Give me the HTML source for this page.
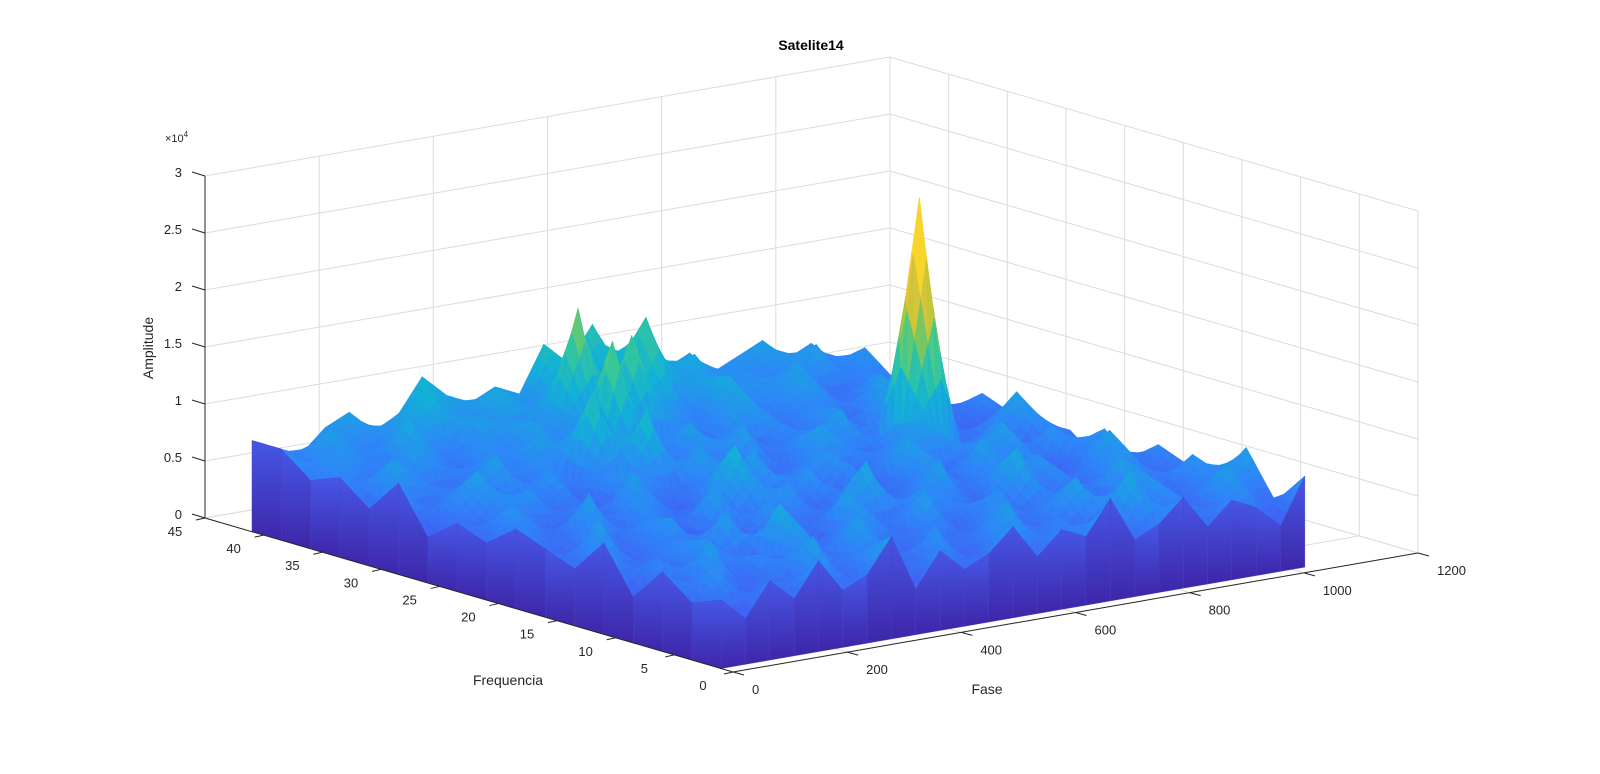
<!DOCTYPE html>
<html><head><meta charset="utf-8"><style>
html,body{margin:0;padding:0;background:#fff;width:1600px;height:774px;overflow:hidden}
svg{display:block;font-family:"Liberation Sans","DejaVu Sans",sans-serif}
</style></head><body>
<svg id="chart" width="1600" height="774" viewBox="0 0 1600 774" xmlns="http://www.w3.org/2000/svg">
<defs><linearGradient id="skirt" x1="0" y1="1" x2="0" y2="0"><stop offset="0" stop-color="#3e26a8"/><stop offset="1" stop-color="#4657e6"/></linearGradient></defs>
<g id="grid"></g>
<g id="surf"></g>
<g id="axes"></g>
<text x="811" y="50" text-anchor="middle" font-size="14" font-weight="bold" fill="#000">Satelite14</text>
<text transform="translate(153,348) rotate(-90)" text-anchor="middle" font-size="14" fill="#262626">Amplitude</text>
<text x="508" y="685" text-anchor="middle" font-size="14" fill="#262626">Frequencia</text>
<text x="987" y="694" text-anchor="middle" font-size="14" fill="#262626">Fase</text>
<text x="165" y="142" font-size="11" fill="#262626">×10<tspan dy="-5" font-size="8">4</tspan></text>
</svg>
<script>
const faseTicks=[0,200,400,600,800,1000,1200];
const freqTicks=[0,5,10,15,20,25,30,35,40,45];
const zTicks=[0,0.5,1,1.5,2,2.5,3];
const zTickLabels=["0","0.5","1","1.5","2","2.5","3"];
const freqs=[1,3.5,6,8.5,11,13.5,16,18.5,21,23.5,26,28.5,31,33.5,36,38.5,41];
const fases=[0,42.6,85.2,127.8,170.4,213,255.6,298.2,340.8,383.4,426,468.6,511.2,553.8,596.4,639,681.6,724.2,766.8,809.4,852,894.6,937.2,979.8,1022.4];
// amplitude in thousands, rows = freqs, cols = fases
const amp=[
[6,4,7,5,8,5,6,9,4,7,5,6,8,5,7,6,9,5,6,8,5,7,6,4,8],
[5,8,4,6,5,9,4,7,6,5,8,4,6,9,5,7,4,6,10,5,7,5,9,6,5],
[7,5,9,4,7,6,8,5,9,6,4,7,5,6,8,4,7,9,5,6,8,4,6,7,9],
[4,7,5,8,6,4,10,6,5,8,7,5,9,4,6,8,5,6,7,4,9,6,5,8,5],
[8,5,6,7,4,9,5,7,6,4,9,6,5,8,7,5,6,10,4,7,5,8,7,5,6],
[5,9,4,6,8,5,7,4,8,6,5,7,10,5,6,9,4,7,6,8,5,6,9,4,7],
[6,4,8,5,7,6,4,9,5,7,8,4,6,7,5,6,8,5,9,6,7,4,6,8,5],
[7,6,5,9,4,8,6,5,7,11,5,6,8,4,7,5,9,6,5,7,9,5,8,6,4],
[5,8,6,4,7,5,9,6,4,7,6,9,5,7,8,4,6,8,9,7,5,8,4,7,6],
[6,5,7,8,5,6,4,8,7,5,9,6,7,5,6,9,7,5,8,27.5,6,5,7,9,5],
[4,7,9,5,6,8,5,7,6,12,5,8,6,9,5,7,6,9,5,8,7,6,5,4,6],
[8,5,6,7,9,4,8,5,13,6,7,5,9,6,8,5,7,6,8,5,9,7,6,5,7],
[5,9,7,5,6,8,6,9,7,5,16,8,6,7,5,9,8,5,7,6,5,9,7,6,5],
[7,6,5,9,7,5,8,6,9,7,8,6,15,9,7,6,10,7,6,9,7,5,8,6,7],
[6,8,7,6,10,7,6,9,8,6,9,17,7,8,14,7,9,6,8,7,9,6,5,7,6],
[8,6,9,7,6,9,11,8,7,10,8,7,9,8,7,14,8,10,7,8,6,7,9,6,8],
[8,7,6,8,9,7,8,11,9,8,9,8,12,10,13,9,11,8,9,7,8,9,7,8,6]
];
const NS="http://www.w3.org/2000/svg";
const F0=[733,672],VF=[-528,-154],VP=[685,-119],ZH=342;
function proj(f,p,z){return [F0[0]+VF[0]*f/45+VP[0]*p/1200, F0[1]+VF[1]*f/45+VP[1]*p/1200-ZH*z/30];}
function mk(tag,attrs,parent){const e=document.createElementNS(NS,tag);for(const k in attrs)e.setAttribute(k,attrs[k]);parent.appendChild(e);return e;}
function line(a,b,col,g,w){return mk('line',{x1:a[0],y1:a[1],x2:b[0],y2:b[1],stroke:col,'stroke-width':w||1},g);}
const stops=[[0,[62,38,168]],[0.125,[72,82,244]],[0.25,[46,135,247]],[0.375,[18,177,214]],[0.5,[55,200,151]],[0.625,[171,199,57]],[0.75,[254,195,56]],[0.875,[245,220,40]],[1,[249,251,14]]];
function parula(t){t=Math.max(0,Math.min(1,t));for(let i=1;i<stops.length;i++){if(t<=stops[i][0]){const a=stops[i-1],b=stops[i],u=(t-a[0])/(b[0]-a[0]);const c=a[1].map((v,k)=>Math.round(v+(b[1][k]-v)*u));return `rgb(${c})`;}}return 'rgb(249,251,14)';}
const grid=document.getElementById('grid'),GC='#dcdcdc';
zTicks.forEach(z=>{const g1=line(proj(45,0,z*10),proj(45,1200,z*10),GC,grid);
const g2=line(proj(45,1200,z*10),proj(0,1200,z*10),GC,grid);});
faseTicks.forEach(p=>{const a=line(proj(45,p,0),proj(45,p,30),GC,grid);
const b=line(proj(0,p,0),proj(45,p,0),GC,grid);});
freqTicks.forEach(f=>{const a=line(proj(f,1200,0),proj(f,1200,30),GC,grid);
const b=line(proj(f,0,0),proj(f,1200,0),GC,grid);});
// surface with bilinear subdivision (interpolated shading)
const surf=document.getElementById('surf');const tris=[];const zmax=27.5;const N=4;
for(let i=0;i<freqs.length-1;i++)for(let j=0;j<fases.length-1;j++){
const z00=amp[i][j],z10=amp[i+1][j],z01=amp[i][j+1],z11=amp[i+1][j+1];
const V=(u,v)=>[freqs[i]+(freqs[i+1]-freqs[i])*u, fases[j]+(fases[j+1]-fases[j])*v, z00*(1-u)*(1-v)+z10*u*(1-v)+z01*(1-u)*v+z11*u*v];
for(let a=0;a<N;a++)for(let b=0;b<N;b++){
const A=V(a/N,b/N),B=V((a+1)/N,b/N),C=V((a+1)/N,(b+1)/N),D=V(a/N,(b+1)/N);
[[A,B,C],[A,C,D]].forEach(t=>{const d=t.reduce((s,v)=>s+v[0]/45+v[1]/1200,0)/3;tris.push({t,d});});}}
tris.sort((a,b)=>b.d-a.d);
tris.forEach(o=>{const pts=o.t.map(v=>proj(v[0],v[1],v[2]));const z=o.t.reduce((s,v)=>s+v[2],0)/3;const col=parula(z/zmax);
const e=mk('polygon',{points:pts.map(p=>p[0].toFixed(1)+','+p[1].toFixed(1)).join(' '),fill:col,stroke:col,'stroke-width':0.6,'stroke-linejoin':'round'},surf);
});
for(let j=0;j<fases.length-1;j++){const pts=[proj(freqs[0],fases[j],0),proj(freqs[0],fases[j+1],0),proj(freqs[0],fases[j+1],amp[0][j+1]),proj(freqs[0],fases[j],amp[0][j])];
const e=mk('polygon',{points:pts.map(p=>p.join(',')).join(' '),fill:'url(#skirt)',stroke:'#4040c0','stroke-width':0.3},surf);
}
for(let i=0;i<freqs.length-1;i++){const pts=[proj(freqs[i],0,0),proj(freqs[i+1],0,0),proj(freqs[i+1],0,amp[i+1][0]),proj(freqs[i],0,amp[i][0])];
const e=mk('polygon',{points:pts.map(p=>p.join(',')).join(' '),fill:'url(#skirt)',stroke:'#4040c0','stroke-width':0.3},surf);
}
const ax=document.getElementById('axes'),AC='#262626';
const za=line(proj(45,0,0),proj(45,0,30),AC,ax);
const fa=line(proj(45,0,0),proj(0,0,0),AC,ax);
const pa=line(proj(0,0,0),proj(0,1200,0),AC,ax);
zTicks.forEach((z,k)=>{const p=proj(45,0,z*10);line(p,[p[0]-13,p[1]-4],AC,ax);
const t=mk('text',{x:p[0]-23,y:p[1]+1,'text-anchor':'end','font-size':13,fill:AC},ax);t.textContent=zTickLabels[k];
});
freqTicks.forEach(f=>{const p=proj(f,0,0);line(p,[p[0]-9,p[1]+2],AC,ax);
const t=mk('text',{x:p[0]-30,y:p[1]+18,'text-anchor':'middle','font-size':13,fill:AC},ax);t.textContent=String(f);
});
faseTicks.forEach(v=>{const p=proj(0,v,0);line(p,[p[0]+11,p[1]+3],AC,ax);
const t=mk('text',{x:p[0]+19,y:p[1]+22,'text-anchor':'start','font-size':13,fill:AC},ax);t.textContent=String(v);
});
</script>
</body></html>
